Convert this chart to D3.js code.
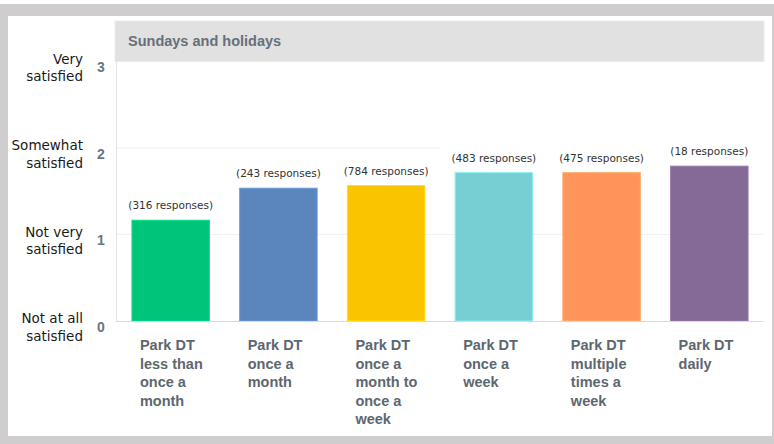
<!DOCTYPE html>
<html><head><meta charset="utf-8">
<script src="https://cdn.jsdelivr.net/npm/d3@7"></script>
<style>html,body{margin:0;padding:0;background:#fff;}svg{display:block;}</style>
</head><body><svg id="c" width="774" height="444"></svg>
<script>
const title = "Sundays and holidays";
const categoryLines = [
  ["Park DT","less than","once a","month"],
  ["Park DT","once a","month"],
  ["Park DT","once a","month to","once a","week"],
  ["Park DT","once a","week"],
  ["Park DT","multiple","times a","week"],
  ["Park DT","daily"]
];
const categories = categoryLines.map(l => l.join(" "));
const values = [1.165, 1.535, 1.565, 1.715, 1.715, 1.79];
const responses = [316, 243, 784, 483, 475, 18];
const colors = ["#00c47a","#5b86bd","#fbc400","#77ced3","#ff955b","#856a98"];
const yTicks = [0,1,2,3];
const yLabelLines = [["Not at all","satisfied"],["Not very","satisfied"],["Somewhat","satisfied"],["Very","satisfied"]];

const svg = d3.select("#c");
// frame
svg.append("rect").attr("x",0).attr("y",4).attr("width",774).attr("height",440).attr("fill","#cfcdce");
svg.append("rect").attr("x",8).attr("y",16).attr("width",764).attr("height",420).attr("fill","#ffffff");

const L = 116, R = 764, T = 61.5, B = 321;
const x = d3.scaleBand().domain(categories).range([L,R]).paddingInner(0.281).paddingOuter(0.148);
const y = d3.scaleLinear().domain([0,3]).range([B,T]);

// title bar
svg.append("rect").attr("x",L-1).attr("y",21).attr("width",R-L+1).attr("height",T-21)
  .attr("fill","#e1e1e1").attr("stroke","#ebebeb").attr("stroke-width",1);
svg.append("text").attr("x",128).attr("y",45.5).text(title)
  .attr("font-family","Liberation Sans, Arial, sans-serif").attr("font-weight","bold")
  .attr("font-size","14.5px").attr("fill","#66707a");

// gridlines
svg.append("line").attr("x1",L).attr("x2",R-1).attr("y1",y(1)).attr("y2",y(1)).attr("stroke","#f0f0f0").attr("stroke-width",1);
svg.append("line").attr("x1",L).attr("x2",x(categories[3]) - 15).attr("y1",y(2)).attr("y2",y(2)).attr("stroke","#f0f0f0").attr("stroke-width",1);

// left axis line
svg.append("line").attr("x1",L+0.5).attr("x2",L+0.5).attr("y1",T).attr("y2",B).attr("stroke","#e3e3e3");

// bars
svg.selectAll("rect.bar").data(values).enter().append("rect").attr("class","bar")
  .attr("x",(d,i)=>x(categories[i])).attr("width",x.bandwidth())
  .attr("y",d=>y(d)).attr("height",d=>B-y(d))
  .attr("fill",(d,i)=>colors[i])
  .attr("stroke",(d,i)=>d3.color(colors[i]).brighter(0.4)).attr("stroke-width",1);

// baseline
svg.append("line").attr("x1",L).attr("x2",R-1).attr("y1",B+0.5).attr("y2",B+0.5).attr("stroke","#d9d9d9");

// response labels
svg.selectAll("text.resp").data(values).enter().append("text").attr("class","resp")
  .attr("x",(d,i)=>x(categories[i])+x.bandwidth()/2).attr("y",d=>y(d)-11)
  .attr("text-anchor","middle").attr("font-family","DejaVu Sans, Verdana, sans-serif")
  .attr("font-size","10.5px").attr("fill","#333")
  .text((d,i)=>"(" + responses[i] + " responses)");

// y tick numbers
svg.selectAll("text.ytick").data(yTicks).enter().append("text").attr("class","ytick")
  .attr("x",101).attr("y",d=>y(d)+10.5).attr("text-anchor","middle")
  .attr("font-family","Liberation Sans, Arial, sans-serif").attr("font-weight","bold")
  .attr("font-size","14px").attr("fill","#6b7580").text(d=>d);

// y category labels
yTicks.forEach((t,i)=>{
  const g = svg.append("text").attr("text-anchor","end")
    .attr("font-family","DejaVu Sans, Verdana, sans-serif").attr("font-size","13.5px").attr("fill","#1a1a1a");
  yLabelLines[i].forEach((ln,j)=>{
    g.append("tspan").attr("x",83).attr("y",y(t)+2 + j*17.5).text(ln);
  });
});

// x labels
categoryLines.forEach((lines,i)=>{
  const g = svg.append("text").attr("font-family","Liberation Sans, Arial, sans-serif")
    .attr("font-weight","bold").attr("font-size","14.5px").attr("fill","#5d6770");
  lines.forEach((ln,j)=>{
    g.append("tspan").attr("x",x(categories[i])+8).attr("y",B+29 + j*18.5).text(ln);
  });
});
</script></body></html>
